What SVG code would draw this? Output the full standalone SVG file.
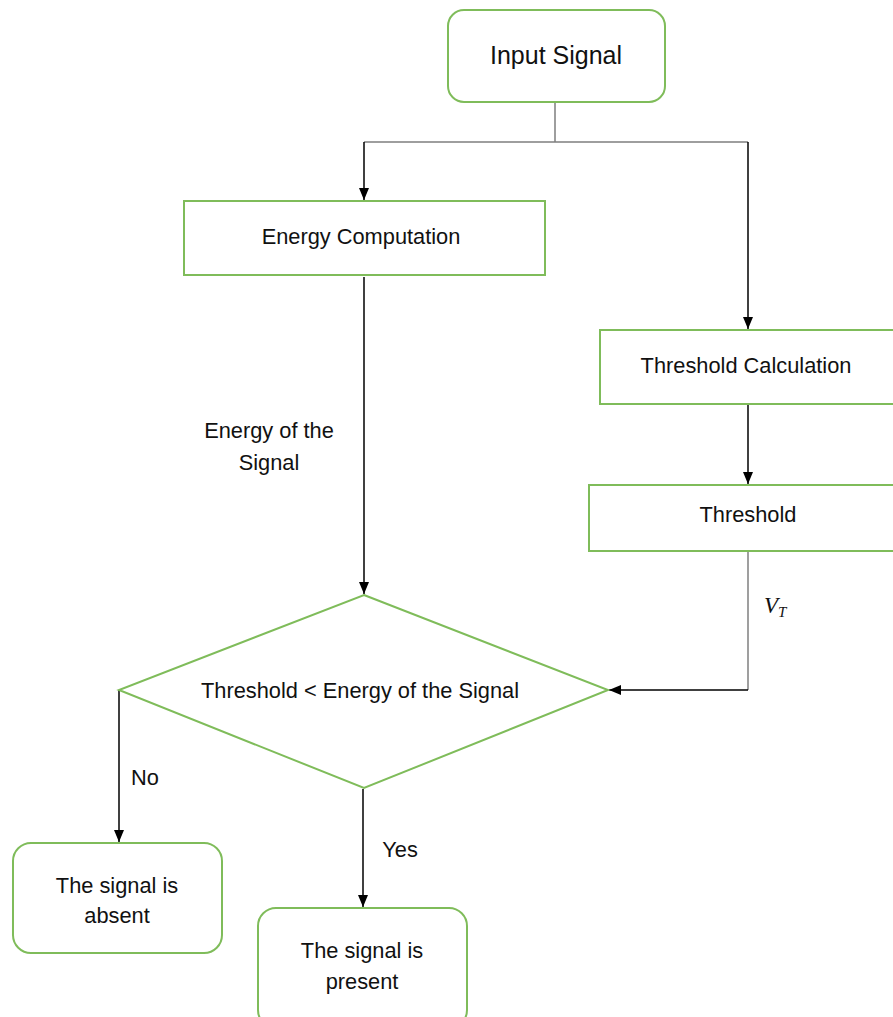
<svg xmlns="http://www.w3.org/2000/svg" width="893" height="1017" viewBox="0 0 893 1017">
  <style>
    .box { fill: #ffffff; stroke: #7fbc5a; stroke-width: 2; }
    .lbl { font-family: "Liberation Sans", Arial, sans-serif; font-size: 21.8px; fill: #111111; text-anchor: middle; }
    .big { font-size: 25px; }
    .edge { fill: none; stroke: #000000; stroke-width: 1.5; }
    .edge-gray { fill: none; stroke: #7f7f7f; stroke-width: 1.5; }
  </style>
  <defs>
    <marker id="arrow" viewBox="0 0 12 10" refX="12" refY="5" markerWidth="12" markerHeight="10" markerUnits="userSpaceOnUse" orient="auto">
      <path d="M0,0 L12,5 L0,10 z" fill="#000000"/>
    </marker>
  </defs>
  <rect width="893" height="1017" fill="#ffffff"/>

  <!-- connectors -->
  <g id="connectors">
    <path class="edge-gray" d="M555,102 V142 M364,142 H748"/>
    <path class="edge" d="M364,142 V200" marker-end="url(#arrow)"/>
    <path class="edge" d="M748,142 V329" marker-end="url(#arrow)"/>
    <path class="edge" d="M364,277 V594" marker-end="url(#arrow)"/>
    <path class="edge" d="M748,404 V484" marker-end="url(#arrow)"/>
    <path class="edge-gray" d="M748,552 V690"/>
    <path class="edge" d="M748,690 H609" marker-end="url(#arrow)"/>
    <path class="edge" d="M119,690 V842" marker-end="url(#arrow)"/>
    <path class="edge" d="M363,789 V907" marker-end="url(#arrow)"/>
    <text class="lbl" x="269" y="438">Energy of the</text>
    <text class="lbl" x="269" y="470">Signal</text>
    <text x="764" y="613" font-family="Liberation Serif, 'Times New Roman', serif" font-style="italic" font-size="23" fill="#111111">V<tspan font-size="15" dy="4">T</tspan></text>
    <text class="lbl" x="145" y="785">No</text>
    <text class="lbl" x="400" y="857">Yes</text>
  </g>

  <g id="input-signal">
    <rect class="box" x="448" y="10" width="217" height="92" rx="16"/>
    <text class="lbl big" x="556" y="64">Input Signal</text>
  </g>

  <g id="energy-computation">
    <rect class="box" x="184" y="201" width="361" height="74"/>
    <text class="lbl" x="361" y="244">Energy Computation</text>
  </g>

  <g id="threshold-calculation">
    <rect class="box" x="600" y="330" width="300" height="74"/>
    <text class="lbl" x="746" y="373">Threshold Calculation</text>
  </g>

  <g id="threshold">
    <rect class="box" x="589" y="485" width="311" height="66"/>
    <text class="lbl" x="748" y="522">Threshold</text>
  </g>

  <g id="decision">
    <polygon class="box" points="364,595 608,690 364,788 119,690"/>
    <text class="lbl" x="360" y="698">Threshold &lt; Energy of the Signal</text>
  </g>

  <g id="signal-absent">
    <rect class="box" x="13" y="843" width="209" height="110" rx="18"/>
    <text class="lbl" x="117" y="893">The signal is</text>
    <text class="lbl" x="117" y="923">absent</text>
  </g>

  <g id="signal-present">
    <rect class="box" x="258" y="908" width="209" height="120" rx="18"/>
    <text class="lbl" x="362" y="958">The signal is</text>
    <text class="lbl" x="362" y="989">present</text>
  </g>
</svg>
